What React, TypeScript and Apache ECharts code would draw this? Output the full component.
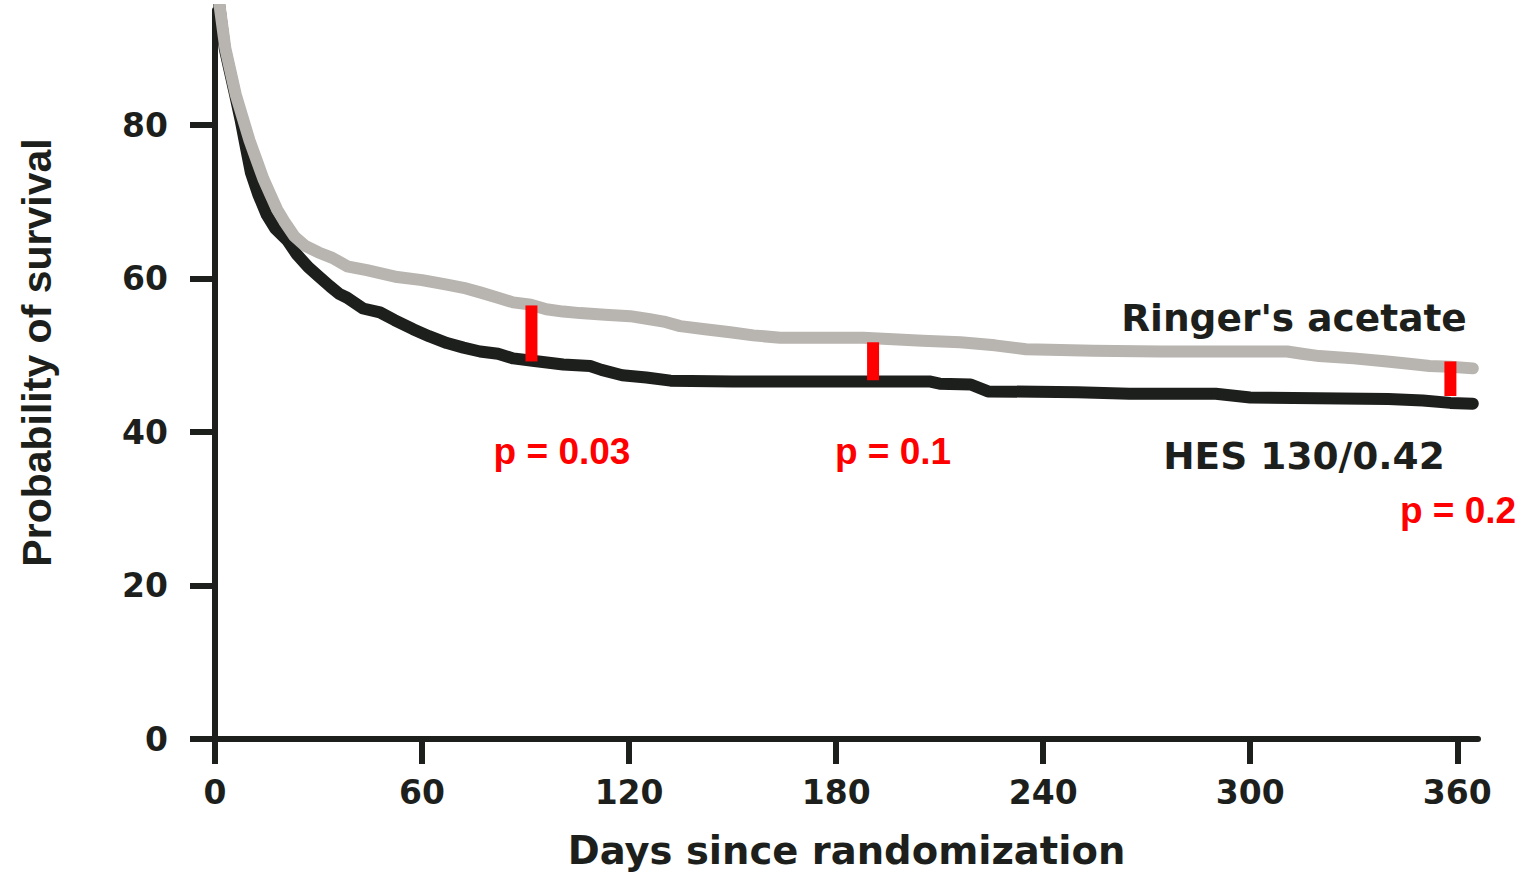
import React, { useEffect, useRef } from "react";
import * as echarts from "echarts";

// Days since randomization / probability of survival (%)
const ringerDays = [0, 1.5, 3, 4.5, 6, 8, 10, 12, 14, 16, 18, 20, 23, 26, 30, 34, 38.3, 44, 52.8, 60, 67.2, 72, 76.8, 82, 86.4, 91.5, 96, 100.9, 105.8, 113, 120.3, 126, 130, 134.8, 142, 149.3, 156, 163.8, 175, 187.8, 196.5, 205, 216, 226, 235, 245, 254.5, 274, 310.7, 315, 320, 330, 339.7, 346, 352, 358, 364.5];
const ringerSurv = [100, 95, 90, 87, 84, 81, 78, 75.5, 73, 71, 69, 67.5, 65.5, 64.3, 63.4, 62.7, 61.6, 61.1, 60.2, 59.8, 59.2, 58.8, 58.2, 57.5, 56.9, 56.6, 56, 55.7, 55.5, 55.3, 55.1, 54.7, 54.4, 53.8, 53.4, 53.0, 52.6, 52.3, 52.3, 52.3, 52.1, 51.9, 51.7, 51.3, 50.8, 50.7, 50.6, 50.5, 50.5, 50.2, 49.9, 49.6, 49.2, 48.9, 48.6, 48.5, 48.3];

const hesDays = [0, 1.4, 2.8, 4.3, 5.8, 7.5, 9, 10.4, 12.5, 15, 17.5, 20.9, 23.8, 27, 30, 33.3, 36, 38.3, 42.9, 47.8, 52, 57.4, 62, 67.2, 72, 76.8, 82, 86.4, 92, 100.9, 108.7, 112, 118, 125, 132, 150, 170, 196.5, 207, 210, 219, 224, 250, 265, 290, 300, 340, 350, 358, 364.5];
const hesSurv = [100, 95, 90, 87, 84, 80.5, 77, 73.8, 71, 68.3, 66.5, 65, 63.1, 61.5, 60.3, 59, 58, 57.5, 56.1, 55.6, 54.6, 53.4, 52.5, 51.6, 51, 50.5, 50.2, 49.6, 49.3, 48.8, 48.6, 48.1, 47.4, 47.1, 46.7, 46.6, 46.6, 46.6, 46.6, 46.3, 46.2, 45.3, 45.2, 45.0, 45.0, 44.5, 44.3, 44.1, 43.8, 43.7];

// Comparison markers: day, upper value, lower value, p-value label
const compDays = [91.7, 190.7, 358];
const compTop = [56.5, 51.7, 49.2];
const compBottom = [49.2, 46.75, 44.7];
const compLabels = ["p = 0.03", "p = 0.1", "p = 0.2"];

const xTicks = [0, 60, 120, 180, 240, 300, 360];
const yTicks = [0, 20, 40, 60, 80];

const seriesNames = ["Ringer's acetate", "HES 130/0.42"];

const DARK = "#1d1f1c";
const GRAY = "#b8b4b0";
const RED = "#ff0000";

export default function App() {
  const ref = useRef<HTMLDivElement>(null);

  useEffect(() => {
    if (!ref.current) return;
    const chart = echarts.init(ref.current, undefined, { renderer: "svg" });

    const zip = (xs: number[], ys: number[]) => xs.map((x, i) => [x, ys[i]]);

    const compSeries = compDays.map((d, i) => ({
      type: "line",
      name: "cmp" + i,
      data: [
        [d, compTop[i]],
        [d, compBottom[i]],
      ],
      symbol: "none",
      lineStyle: { color: RED, width: 12, cap: "butt" },
      z: 5,
      silent: true,
    }));

    const redText = (text: string, x: number, y: number) => ({
      type: "text",
      x,
      y,
      style: {
        text,
        fontFamily: "Liberation Sans",
        fontWeight: "bold",
        fontSize: 37,
        fill: RED,
        align: "center",
        verticalAlign: "middle",
      },
    });

    const darkText = (text: string, x: number, y: number) => ({
      type: "text",
      x,
      y,
      style: {
        text,
        fontFamily: "DejaVu Sans",
        fontWeight: "bold",
        fontSize: 37.5,
        fill: DARK,
        align: "center",
        verticalAlign: "middle",
      },
    });

    const option: any = {
      animation: false,
      backgroundColor: "#ffffff",
      grid: { left: 215, right: 58, top: 10, bottom: 134 },
      xAxis: {
        type: "value",
        min: 0,
        max: 366,
        name: "Days since randomization",
        nameLocation: "middle",
        nameGap: 92,
        nameTextStyle: {
          fontFamily: "DejaVu Sans",
          fontWeight: "bold",
          fontSize: 38.5,
          color: DARK,
        },
        splitLine: { show: false },
        axisLine: { onZero: false, lineStyle: { color: DARK, width: 6 } },
        axisTick: {
          customValues: xTicks,
          length: 25,
          lineStyle: { color: DARK, width: 6 },
        },
        axisLabel: {
          customValues: xTicks,
          margin: 37,
          fontFamily: "DejaVu Sans",
          fontWeight: "bold",
          fontSize: 33,
          color: DARK,
        },
      },
      yAxis: {
        type: "value",
        min: 0,
        max: 95,
        name: "Probability of survival",
        nameLocation: "middle",
        nameGap: 158,
        nameRotate: 90,
        nameTextStyle: {
          fontFamily: "Liberation Sans",
          fontWeight: "bold",
          fontSize: 41,
          color: DARK,
          padding: [0, 0, 0, 44],
        },
        splitLine: { show: false },
        axisLine: { onZero: false, lineStyle: { color: DARK, width: 6 } },
        axisTick: {
          customValues: yTicks,
          length: 25,
          lineStyle: { color: DARK, width: 6 },
        },
        axisLabel: {
          customValues: yTicks,
          margin: 47,
          fontFamily: "DejaVu Sans",
          fontWeight: "bold",
          fontSize: 33,
          color: DARK,
        },
      },
      series: [
        {
          type: "line",
          name: seriesNames[1],
          data: zip(hesDays, hesSurv),
          symbol: "none",
          clip: true,
          lineStyle: { color: DARK, width: 12, cap: "round", join: "round" },
          z: 2,
        },
        {
          type: "line",
          name: seriesNames[0],
          data: zip(ringerDays, ringerSurv),
          symbol: "none",
          clip: true,
          lineStyle: { color: GRAY, width: 12, cap: "round", join: "round" },
          z: 3,
        },
        ...compSeries,
      ],
      graphic: [
        darkText(seriesNames[0], 1294, 318),
        darkText(seriesNames[1], 1304, 456),
        redText(compLabels[0], 562, 451),
        redText(compLabels[1], 893, 451),
        redText(compLabels[2], 1458, 510),
      ],
    };

    chart.setOption(option);
    return () => chart.dispose();
  }, []);

  return (
    <div
      ref={ref}
      style={{ position: "absolute", left: 0, top: 0, width: 1536, height: 875 }}
    />
  );
}
